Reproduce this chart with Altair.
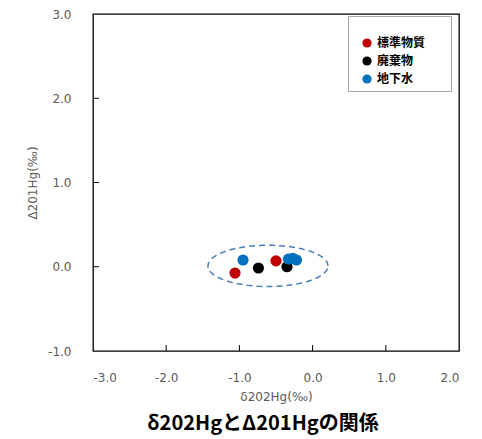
import altair as alt
import pandas as pd

# ---- data ----
series_names = ["標準物質", "廃棄物", "地下水"]
series_colors = ["#C00000", "#000000", "#0070C0"]

std_x = [-1.06, -0.50]
std_y = [-0.075, 0.07]
waste_x = [-0.74, -0.35]
waste_y = [-0.015, 0.00]
ground_x = [-0.95, -0.33, -0.27, -0.22]
ground_y = [0.08, 0.09, 0.10, 0.08]

x_ticks = [-3.0, -2.0, -1.0, 0.0, 1.0, 2.0]
y_ticks = [-1.0, 0.0, 1.0, 2.0, 3.0]

# dashed ellipse annotation (centre and semi-axes in data units)
ell_cx, ell_cy = -0.61, 0.01
ell_rx, ell_ry = 0.82, 0.245

title_text = "δ202HgとΔ201Hgの関係"
x_title = "δ202Hg(‰)"
y_title = "Δ201Hg(‰)"

rows = []
for name, xs, ys in zip(series_names, [std_x, waste_x, ground_x], [std_y, waste_y, ground_y]):
    for xv, yv in zip(xs, ys):
        rows.append({"series": name, "x": xv, "y": yv})
df = pd.DataFrame(rows)

W, H = 366, 337
xscale = alt.Scale(domain=[-3, 2], nice=False, zero=False)
yscale = alt.Scale(domain=[-1, 3], nice=False, zero=False)

label_expr = "datum.value < 0 ? '-' + format(-datum.value, '.1f') : format(datum.value, '.1f')"

axis_common = dict(
    grid=False, ticks=False, domain=False,
    labelFont="DejaVu Sans", labelFontSize=12, labelColor="#595959",
    titleFont="DejaVu Sans", titleFontSize=12, titleColor="#595959", titleFontWeight="normal",
    labelExpr=label_expr,
)

points = alt.Chart(df).mark_circle(size=125, opacity=1).encode(
    x=alt.X("x:Q", scale=xscale, title=x_title,
            axis=alt.Axis(values=x_ticks, labelPadding=21, titlePadding=8, **axis_common)),
    y=alt.Y("y:Q", scale=yscale, title=y_title,
            axis=alt.Axis(values=y_ticks, labelPadding=22, titlePadding=8, **axis_common)),
    color=alt.Color("series:N",
                    scale=alt.Scale(domain=series_names, range=series_colors),
                    sort=series_names,
                    legend=alt.Legend(
                        # invisible spacer title widens the legend box like the reference
                        title="0" * 13, titleFont="DejaVu Sans", titleFontSize=10,
                        titleOpacity=0, titlePadding=5,
                        orient="none", legendX=255, legendY=2,
                        strokeColor="#a6a6a6", padding=6, symbolOffset=7,
                        symbolType="circle", symbolSize=85, symbolStrokeWidth=0,
                        rowPadding=6, labelOffset=4,
                        labelFont="Noto Sans CJK JP", labelFontSize=12,
                        labelFontWeight="bold", labelColor="#000000",
                    )),
    order=alt.Order("order:Q"),
).transform_calculate(
    order="datum.series == '地下水' ? 2 : (datum.series == '廃棄物' ? 1 : 0)"
)

ellipse = alt.Chart(alt.sequence(0, 365, 5, as_="t")).transform_calculate(
    ex=f"{ell_cx} + {ell_rx} * cos(datum.t * PI / 180)",
    ey=f"{ell_cy} + {ell_ry} * sin(datum.t * PI / 180)",
).mark_line(color="#4A7EBB", strokeWidth=1.5, strokeDash=[6, 4]).encode(
    x=alt.X("ex:Q", scale=xscale),
    y=alt.Y("ey:Q", scale=yscale),
    order="t:Q",
)

ytick_df = pd.DataFrame({"v": y_ticks[1:-1]})
xtick_df = pd.DataFrame({"v": x_ticks[1:-1]})

yticks = alt.Chart(ytick_df).mark_rule(color="#000", strokeWidth=1).encode(
    y=alt.Y("v:Q", scale=yscale), x=alt.value(0), x2=alt.value(6))
xticks = alt.Chart(xtick_df).mark_rule(color="#000", strokeWidth=1).encode(
    x=alt.X("v:Q", scale=xscale), y=alt.value(H), y2=alt.value(H - 6))

title = alt.Chart(pd.DataFrame({"t": [title_text]})).mark_text(
    font="Noto Sans CJK JP", fontSize=20, fontWeight="bold", color="#000",
    align="center", baseline="middle",
).encode(text="t:N", x=alt.value(170), y=alt.value(410))

chart = alt.layer(ellipse, points, yticks, xticks, title).properties(
    width=W, height=H,
    autosize=alt.AutoSizeParams(type="none"),
    padding={"left": 93, "top": 14, "right": 23, "bottom": 88},
    background="white",
).configure_view(stroke="#000000", strokeWidth=1.3)

chart.save("out.html", embed_options={"renderer": "svg", "actions": False})
